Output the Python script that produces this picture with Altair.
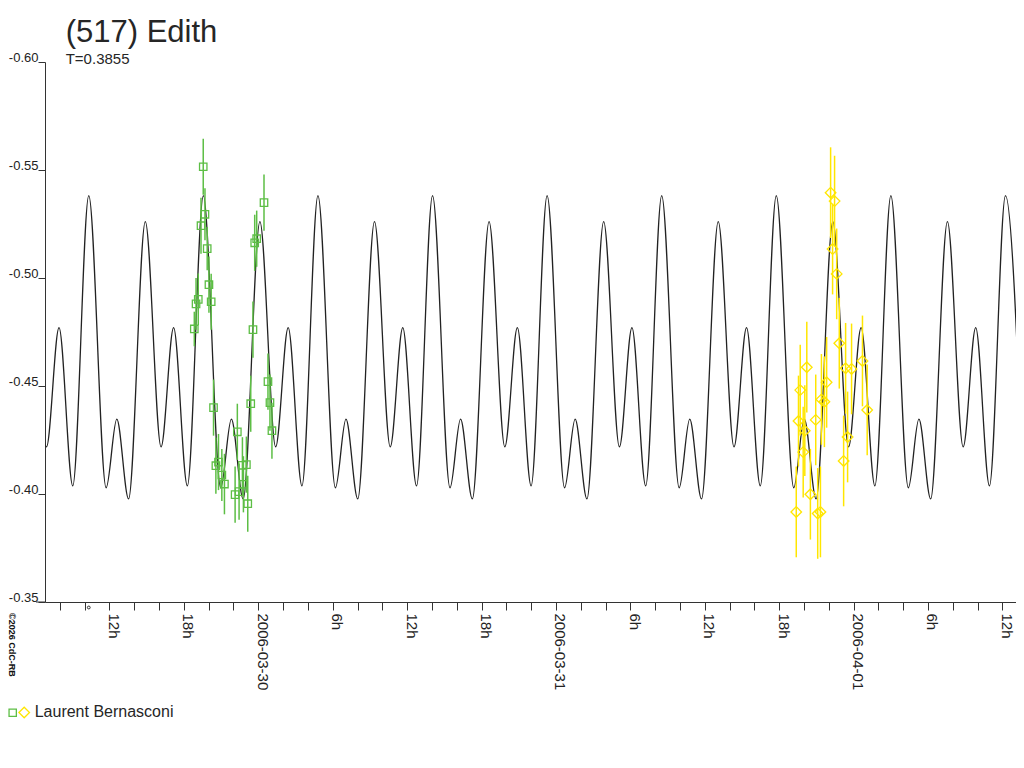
import json
import altair as alt
import pandas as pd

# ---------------- data ----------------
title_text = "(517) Edith"
subtitle_text = "T=0.3855"
observer = "Laurent Bernasconi"
credit = "\u00a92026 CdC-RB"

# hours since 2006-03-30 00:00 and magnitude of the model curve extrema
curve_hours = [
    -18.35, -17.08, -16.07, -14.96,
    -13.67, -12.27, -11.41, -10.46, -9.11, -7.84, -6.83, -5.72,
    -4.43, -3.03, -2.17, -1.22, 0.13, 1.40, 2.41, 3.52,
    4.81, 6.22, 7.07, 8.02, 9.37, 10.64, 11.65, 12.76,
    14.05, 15.46, 16.31, 17.26, 18.61, 19.88, 20.89, 22.00,
    23.29, 24.70, 25.55, 26.50, 27.85, 29.12, 30.13, 31.24,
    32.53, 33.94, 34.79, 35.74, 37.09, 38.36, 39.37, 40.48,
    41.77, 43.18, 44.03, 44.98, 46.33, 47.60, 48.61, 49.72,
    51.01, 52.42, 53.27, 54.22, 55.57, 56.84, 57.85, 58.96,
    60.25, 61.66,
]
curve_mag = [
    -0.5261, -0.4218, -0.4770, -0.4038,
    -0.5381, -0.4029, -0.4347, -0.3977, -0.5261, -0.4218, -0.4770, -0.4038,
    -0.5381, -0.4029, -0.4347, -0.3977, -0.5261, -0.4218, -0.4770, -0.4038,
    -0.5381, -0.4029, -0.4347, -0.3977, -0.5261, -0.4218, -0.4770, -0.4038,
    -0.5381, -0.4029, -0.4347, -0.3977, -0.5261, -0.4218, -0.4770, -0.4038,
    -0.5381, -0.4029, -0.4347, -0.3977, -0.5261, -0.4218, -0.4770, -0.4038,
    -0.5381, -0.4029, -0.4347, -0.3977, -0.5261, -0.4218, -0.4770, -0.4038,
    -0.5381, -0.4029, -0.4347, -0.3977, -0.5261, -0.4218, -0.4770, -0.4038,
    -0.5381, -0.4029, -0.4347, -0.3977, -0.5261, -0.4218, -0.4770, -0.4038,
    -0.5381, -0.4029,
]

# session 1 (green squares)
green_hours = [-4.44, -4.30, -4.62, -4.12, -3.98, -3.80, -4.84, -5.02, -5.16,
               -3.61, -3.42, -3.21, -2.94, -2.73, -1.69, -1.87, -1.55, -1.28,
               -0.96, -1.20, -0.85, -0.61, -0.43, -0.29, -0.13, 0.46, 0.78,
               0.94, 1.10]
green_mag = [-0.5515, -0.5295, -0.5242, -0.5136, -0.4969, -0.4890, -0.4901,
             -0.4880, -0.4764, -0.4400, -0.4131, -0.4148, -0.4088, -0.4046,
             -0.4288, -0.3997, -0.4011, -0.4133, -0.4136, -0.4045, -0.3955,
             -0.4418, -0.4761, -0.5163, -0.5182, -0.5349, -0.4520, -0.4423,
             -0.4293]
green_err = [0.013, 0.012, 0.013, 0.010, 0.013, 0.013, 0.012, 0.012, 0.008,
             0.013, 0.013, 0.013, 0.012, 0.014, 0.013, 0.013, 0.013, 0.013,
             0.013, 0.013, 0.013, 0.013, 0.013, 0.013, 0.013, 0.013, 0.013,
             0.013, 0.013]

# session 2 (yellow diamonds)
yellow_hours = [46.15, 46.47, 46.31, 46.64, 46.85, 44.23, 43.70, 43.56, 44.07,
                43.94, 44.95, 45.41, 45.65, 45.83, 47.36, 47.84, 48.72, 49.10,
                47.52, 47.20, 43.38, 44.52, 45.11, 45.33]
yellow_mag = [-0.5395, -0.5356, -0.5134, -0.5019, -0.4698, -0.4587, -0.4481,
              -0.4338, -0.4293, -0.4194, -0.4343, -0.4438, -0.4427, -0.4517,
              -0.4582, -0.4579, -0.4616, -0.4389, -0.4264, -0.4153, -0.3917,
              -0.3999, -0.3910, -0.3917]
yellow_err = [0.021] * 24

epoch_hours = [-13.67]

x_tick_values = [-16, -14, -12, -10, -8, -6, -4, -2, 0, 2, 4, 6, 8, 10, 12, 14,
                 16, 18, 20, 22, 24, 26, 28, 30, 32, 34, 36, 38, 40, 42, 44, 46,
                 48, 50, 52, 54, 56, 58, 60]
x_tick_labels = ["", "", "12h", "", "", "18h", "", "", "2006-03-30", "", "",
                 "6h", "", "", "12h", "", "", "18h", "", "", "2006-03-31", "",
                 "", "6h", "", "", "12h", "", "", "18h", "", "", "2006-04-01",
                 "", "", "6h", "", "", "12h"]
y_tick_values = [-0.60, -0.55, -0.50, -0.45, -0.40, -0.35]
y_tick_labels = ["-0.60", "-0.55", "-0.50", "-0.45", "-0.40", "-0.35"]

# ---------------- styles ----------------
GREEN = "#5DBE45"
YELLOW = "#FFE600"
INK = "#222222"
FONT = "Liberation Sans"

curve_df = pd.DataFrame({"h": curve_hours, "mag": curve_mag})
g_df = pd.DataFrame({"h": green_hours, "mag": green_mag, "err": green_err})
g_df["lo"] = g_df["mag"] - g_df["err"]
g_df["hi"] = g_df["mag"] + g_df["err"]
y_df = pd.DataFrame({"h": yellow_hours, "mag": yellow_mag, "err": yellow_err})
y_df["lo"] = y_df["mag"] - y_df["err"]
y_df["hi"] = y_df["mag"] + y_df["err"]
ep_df = pd.DataFrame({"h": epoch_hours})

xscale = alt.Scale(domain=[-17.2, 61.1], nice=False, zero=False)
yscale = alt.Scale(domain=[-0.60, -0.35], reverse=True, nice=False, zero=False)

xaxis = alt.Axis(
    title=None, values=x_tick_values, grid=False,
    labelExpr=f"{json.dumps(x_tick_labels)}[indexof({json.dumps(x_tick_values)}, datum.value)]",
    labelAngle=90, labelAlign="left", labelBaseline="alphabetic",
    labelFont=FONT, labelFontSize=15, labelColor=INK, labelPadding=3,
    labelOffset=-1,
    labelOverlap=False, labelFlush=False,
    tickSize=8, tickColor="#333333", domainColor="#333333",
    tickWidth=1, domainWidth=1,
)
yaxis = alt.Axis(
    title=None, values=y_tick_values, grid=False,
    labelExpr=f"{json.dumps(y_tick_labels)}[indexof({json.dumps(y_tick_values)}, datum.value)]",
    labelAlign="right", labelBaseline="alphabetic", labelOffset=-1,
    labelFont=FONT, labelFontSize=13, labelColor=INK, labelPadding=0,
    labelOverlap=False, labelFlush=False,
    tickSize=7, tickColor="#333333", domainColor="#333333",
    tickWidth=1, domainWidth=1,
)

X = alt.X("h:Q", scale=xscale, axis=xaxis)
Y = alt.Y("mag:Q", scale=yscale, axis=yaxis)

curve = alt.Chart(curve_df).mark_line(
    color=INK, strokeWidth=1.3, interpolate="monotone", clip=True
).encode(x=X, y=Y)

g_bars = alt.Chart(g_df).mark_rule(color=GREEN, strokeWidth=1.5).encode(
    x=X, y=alt.Y("lo:Q", scale=yscale, axis=yaxis), y2="hi:Q")
g_pts = alt.Chart(g_df).mark_point(
    shape="square", filled=False, color=GREEN, size=55, strokeWidth=1.3, opacity=1
).encode(x=X, y=Y)

y_bars = alt.Chart(y_df).mark_rule(color=YELLOW, strokeWidth=1.5).encode(
    x=X, y=alt.Y("lo:Q", scale=yscale, axis=yaxis), y2="hi:Q")
y_pts = alt.Chart(y_df).mark_point(
    shape="diamond", filled=False, color=YELLOW, size=112, strokeWidth=1.3, opacity=1
).encode(x=X, y=Y)

epoch = alt.Chart(ep_df).mark_point(
    shape="circle", filled=False, color="#333333", size=8, strokeWidth=1, opacity=1
).encode(x=X, y=alt.value(545.5))

axis_ext = alt.Chart(ep_df).mark_rule(color="#333333", strokeWidth=1).encode(
    x=alt.value(-9), x2=alt.value(0), y=alt.value(540))

txt = pd.DataFrame({"title": [title_text], "sub": [subtitle_text],
                    "obs": [observer], "credit": [credit]})

title_mark = alt.Chart(txt).mark_text(
    font=FONT, fontSize=31, color="#262626", align="left", baseline="alphabetic"
).encode(text="title:N", x=alt.value(20.7), y=alt.value(-20.3))
sub_mark = alt.Chart(txt).mark_text(
    font=FONT, fontSize=15, color="#262626", align="left", baseline="alphabetic"
).encode(text="sub:N", x=alt.value(20.7), y=alt.value(2.3))
credit_mark = alt.Chart(txt).mark_text(
    font=FONT, fontSize=9, fontWeight="bold", color="#111111", align="left",
    baseline="alphabetic", angle=90
).encode(text="credit:N", x=alt.value(-36.3), y=alt.value(551))
leg_text = alt.Chart(txt).mark_text(
    font=FONT, fontSize=16, color="#262626", align="left", baseline="alphabetic"
).encode(text="obs:N", x=alt.value(-10.3), y=alt.value(654.7))
leg_sq = alt.Chart(txt).mark_point(
    shape="square", filled=False, color=GREEN, size=53, strokeWidth=1.3, opacity=1
).encode(x=alt.value(-32.3), y=alt.value(650.8))
leg_dia = alt.Chart(txt).mark_point(
    shape="diamond", filled=False, color=YELLOW, size=112, strokeWidth=1.3, opacity=1
).encode(x=alt.value(-20.8), y=alt.value(650.5))

chart = alt.layer(
    curve, g_bars, y_bars, g_pts, y_pts, epoch, axis_ext,
    title_mark, sub_mark, credit_mark, leg_text, leg_sq, leg_dia,
).properties(
    width=971, height=540,
    padding={"left": 37, "top": 54, "right": 0, "bottom": 150},
    autosize=alt.AutoSizeParams(type="none"),
    background="white",
).configure(font=FONT).configure_view(strokeWidth=0, stroke="transparent")

chart.save("out.html", embed_options={"renderer": "svg", "actions": False})
